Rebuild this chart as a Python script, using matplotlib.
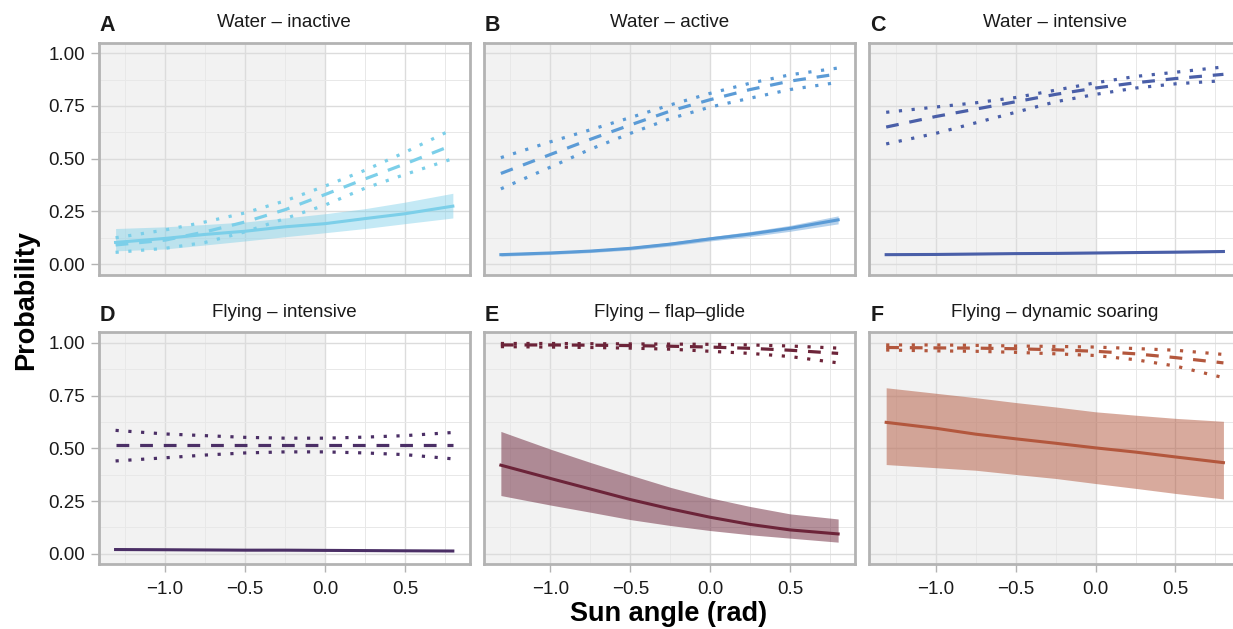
import numpy as np
import matplotlib
matplotlib.use("Agg")
import matplotlib.pyplot as plt
from matplotlib.ticker import MultipleLocator

plt.rcParams['font.family'] = ['Liberation Sans', 'DejaVu Sans']

x_pts = [-1.31, -1.0, -0.75, -0.5, -0.25, 0.0, 0.25, 0.5, 0.8]

titles = ["Water – inactive", "Water – active", "Water – intensive",
          "Flying – intensive", "Flying – flap–glide", "Flying – dynamic soaring"]
letters = ["A", "B", "C", "D", "E", "F"]
colors = ["#7ccfe9", "#5b9bd6", "#4a5fa8", "#4b2f66", "#6c2439", "#b3573d"]

# solid line (mean) and its ribbon
a_mean = [0.103, 0.122, 0.141, 0.156, 0.177, 0.192, 0.216, 0.239, 0.275]
a_lo = [0.063, 0.072, 0.091, 0.110, 0.130, 0.149, 0.169, 0.192, 0.219]
a_hi = [0.169, 0.177, 0.188, 0.200, 0.219, 0.239, 0.263, 0.294, 0.336]
b_mean = [0.045, 0.053, 0.062, 0.075, 0.095, 0.120, 0.143, 0.170, 0.210]
b_lo = [0.038, 0.046, 0.055, 0.067, 0.086, 0.110, 0.131, 0.156, 0.191]
b_hi = [0.052, 0.060, 0.069, 0.083, 0.104, 0.130, 0.155, 0.184, 0.229]
c_mean = [0.045, 0.046, 0.048, 0.050, 0.051, 0.053, 0.055, 0.057, 0.060]
c_lo = [0.042, 0.043, 0.045, 0.047, 0.048, 0.050, 0.051, 0.053, 0.055]
c_hi = [0.048, 0.049, 0.051, 0.053, 0.054, 0.056, 0.059, 0.061, 0.065]
d_mean = [0.020, 0.019, 0.018, 0.017, 0.017, 0.016, 0.015, 0.014, 0.013]
d_lo = [0.017, 0.016, 0.016, 0.015, 0.015, 0.014, 0.013, 0.012, 0.011]
d_hi = [0.023, 0.022, 0.021, 0.020, 0.019, 0.018, 0.017, 0.016, 0.015]
e_mean = [0.420, 0.357, 0.307, 0.257, 0.213, 0.173, 0.139, 0.113, 0.094]
e_lo = [0.276, 0.231, 0.197, 0.162, 0.134, 0.110, 0.090, 0.074, 0.055]
e_hi = [0.580, 0.496, 0.433, 0.373, 0.315, 0.265, 0.224, 0.189, 0.165]
f_mean = [0.623, 0.595, 0.567, 0.545, 0.524, 0.502, 0.482, 0.459, 0.432]
f_lo = [0.423, 0.408, 0.396, 0.376, 0.357, 0.333, 0.310, 0.286, 0.260]
f_hi = [0.787, 0.761, 0.740, 0.717, 0.696, 0.673, 0.657, 0.642, 0.628]

# dashed estimate with dotted bounds
a_dash = [0.091, 0.114, 0.153, 0.200, 0.258, 0.330, 0.404, 0.475, 0.565]
a_dlo = [0.056, 0.075, 0.103, 0.153, 0.216, 0.280, 0.360, 0.425, 0.500]
a_dhi = [0.125, 0.162, 0.200, 0.243, 0.300, 0.370, 0.445, 0.530, 0.640]
b_dash = [0.430, 0.520, 0.592, 0.660, 0.726, 0.780, 0.828, 0.868, 0.902]
b_dlo = [0.357, 0.460, 0.545, 0.620, 0.690, 0.745, 0.787, 0.828, 0.862]
b_dhi = [0.505, 0.580, 0.637, 0.695, 0.755, 0.810, 0.858, 0.898, 0.930]
c_dash = [0.650, 0.700, 0.735, 0.770, 0.805, 0.835, 0.860, 0.880, 0.900]
c_dlo = [0.570, 0.620, 0.670, 0.720, 0.770, 0.805, 0.835, 0.855, 0.870]
c_dhi = [0.720, 0.745, 0.765, 0.790, 0.825, 0.860, 0.890, 0.910, 0.935]
d_dash = [0.515, 0.515, 0.515, 0.515, 0.515, 0.515, 0.515, 0.515, 0.515]
d_dlo = [0.440, 0.455, 0.468, 0.478, 0.483, 0.483, 0.478, 0.470, 0.450]
d_dhi = [0.585, 0.568, 0.560, 0.552, 0.548, 0.548, 0.553, 0.560, 0.575]
e_dash = [0.990, 0.990, 0.989, 0.987, 0.984, 0.980, 0.974, 0.965, 0.950]
e_dlo = [0.982, 0.980, 0.978, 0.975, 0.970, 0.960, 0.950, 0.935, 0.905]
e_dhi = [0.997, 0.997, 0.996, 0.995, 0.994, 0.993, 0.990, 0.985, 0.975]
f_dash = [0.978, 0.976, 0.975, 0.972, 0.967, 0.960, 0.948, 0.930, 0.905]
f_dlo = [0.966, 0.962, 0.960, 0.955, 0.948, 0.940, 0.920, 0.890, 0.835]
f_dhi = [0.990, 0.990, 0.988, 0.985, 0.983, 0.980, 0.973, 0.965, 0.945]

means = [a_mean, b_mean, c_mean, d_mean, e_mean, f_mean]
los = [a_lo, b_lo, c_lo, d_lo, e_lo, f_lo]
his = [a_hi, b_hi, c_hi, d_hi, e_hi, f_hi]
dashes = [a_dash, b_dash, c_dash, d_dash, e_dash, f_dash]
dlos = [a_dlo, b_dlo, c_dlo, d_dlo, e_dlo, f_dlo]
dhis = [a_dhi, b_dhi, c_dhi, d_dhi, e_dhi, f_dhi]
ribbon_alpha = [0.45, 0.45, 0.45, 0.45, 0.5, 0.5]

W, H = 1233, 629
fig = plt.figure(figsize=(W / 100, H / 100), dpi=100)

lefts = [98.7, 484.0, 869.3]
tops = [42.7, 332.3]
aw, ah = 371, 232
border = '#b3b3b3'

for i in range(6):
    row, col = divmod(i, 3)
    l, t = lefts[col], tops[row]
    ax = fig.add_axes([l / W, 1 - (t + ah) / H, aw / W, ah / H])
    ax.set_xlim(-1.4155, 0.9055)
    ax.set_ylim(-0.05, 1.05)
    ax.set_facecolor('white')
    ax.axvspan(-1.4155, 0.0, color='#f2f2f2', zorder=0.1, lw=0)

    ax.xaxis.set_major_locator(MultipleLocator(0.5))
    ax.xaxis.set_minor_locator(MultipleLocator(0.25))
    ax.yaxis.set_major_locator(MultipleLocator(0.25))
    ax.yaxis.set_minor_locator(MultipleLocator(0.125))
    ax.set_axisbelow(True)
    ax.grid(which='major', color='#dcdcdc', lw=1.0)
    ax.grid(which='minor', color='#e8e8e8', lw=0.7)

    for s in ax.spines.values():
        s.set_color(border)
        s.set_linewidth(2.0)
        s.set_zorder(5)

    ax.tick_params(which='minor', length=0)
    ax.tick_params(which='major', length=6, width=1.0, color=border,
                   labelsize=13.5, labelcolor='#1a1a1a', pad=4)
    if col == 0:
        ax.set_yticks([0, 0.25, 0.5, 0.75, 1.0])
        ax.set_yticklabels(['0.00', '0.25', '0.50', '0.75', '1.00'])
    else:
        ax.tick_params(axis='y', which='major', length=0, labelleft=False)
    if row == 1:
        ax.set_xticks([-1.0, -0.5, 0.0, 0.5])
        ax.set_xticklabels(['−1.0', '−0.5', '0.0', '0.5'])
        ax.tick_params(axis='x', pad=6)
    else:
        ax.tick_params(axis='x', which='major', length=0, labelbottom=False)

    c = colors[i]
    ax.fill_between(x_pts, los[i], his[i], color=c, alpha=ribbon_alpha[i],
                    lw=0, zorder=2)
    ax.plot(x_pts, means[i], color=c, lw=2.2, zorder=3)
    ax.plot(x_pts, dashes[i], color=c, lw=2.3, dashes=(4.0, 3.4), zorder=3)
    ax.plot(x_pts, dlos[i], color=c, lw=2.3, dashes=(1.0, 3.0), zorder=3)
    ax.plot(x_pts, dhis[i], color=c, lw=2.3, dashes=(1.0, 3.0), zorder=3)

    ty = t - 20
    fig.text((l + aw / 2) / W, 1 - ty / H, titles[i], ha='center', va='center',
             fontsize=13.5, color='#1a1a1a')
    fig.text((l + 1) / W, 1 - (ty + 3) / H, letters[i], ha='left', va='center',
             fontsize=15.5, fontweight='bold', color='#1a1a1a')

fig.text(26 / W, 1 - 300 / H, 'Probability', rotation=90, ha='center',
         va='center', fontsize=19.5, fontweight='bold')
fig.text(669 / W, 1 - 614 / H, 'Sun angle (rad)', ha='center', va='center',
         fontsize=19.5, fontweight='bold')

fig.savefig('out.png', dpi=100)
